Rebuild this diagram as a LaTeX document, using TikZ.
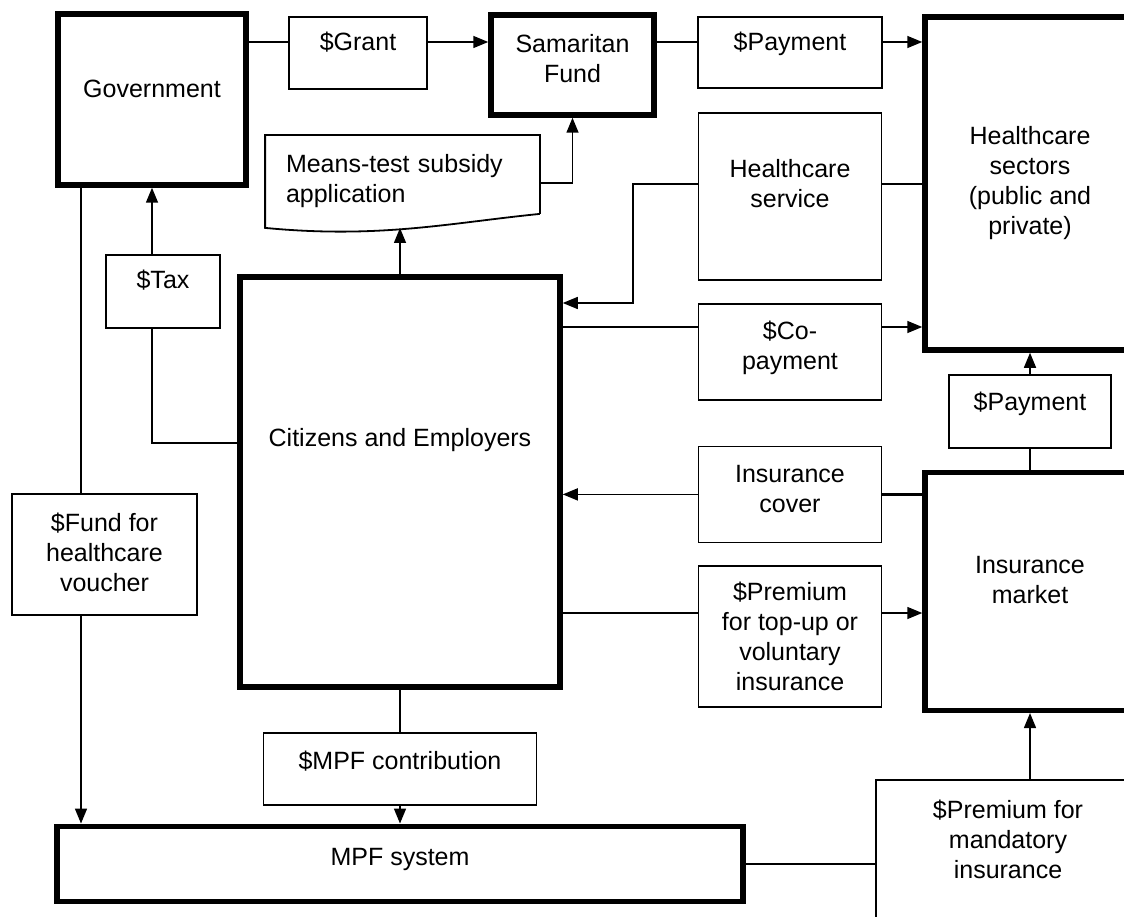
\documentclass[tikz,border=0pt]{standalone}
\usepackage{fontspec}
\setmainfont{Liberation Sans}
\usepackage{tikz}
\usetikzlibrary{arrows.meta,positioning}
\tikzstyle{block} = [rectangle, draw=black, line width=1.8pt, text=black, text centered, align=center, font=\fontsize{25}{30}\selectfont, inner sep=0pt, text height=18pt]
\tikzstyle{heavy} = [block, line width=5.5pt]
\tikzstyle{tline} = [draw, line width=1.5pt]
\tikzstyle{tedge} = [draw, line width=1.5pt, >={Triangle[length=15pt,width=12pt]}, ->]

\begin{document}
\begin{tikzpicture}[x=1pt, y=-1pt]
\useasboundingbox (0,0) rectangle (1124,917);

% rows and columns of the connectors
\coordinate (toprow) at (0,42);
\coordinate (servrow) at (0,184);
\coordinate (bend) at (633,303);
\coordinate (payrow) at (0,327);
\coordinate (taxrow) at (0,443);
\coordinate (premrow) at (0,613);
\coordinate (fundcol) at (81,0);
\coordinate (meansbot) at (400,228);

% top row =============================
\node[heavy, minimum width=188pt, minimum height=171pt, text depth=21pt] (gov) at (152,99.5) {Government};
\node[block, minimum width=138pt, minimum height=72pt, text depth=22pt] (grant) at (358,53) {\$Grant};
\node[heavy, minimum width=163pt, minimum height=100pt, text height=48pt, text depth=12pt] (sam) at (572.5,65) {Samaritan\\Fund};
\node[block, minimum width=184pt, minimum height=71pt, text depth=21pt] (pay1) at (790,52.5) {\$Payment};
\node[heavy, minimum width=210pt, minimum height=333pt, text height=108pt, text depth=5pt] (sect) at (1030,183.5) {Healthcare\\sectors\\(public and\\private)};

% means test form
\node[block, draw=none, minimum width=273pt, minimum height=94pt, text width=233pt, align=left, text depth=38pt] (means) at (402.5,183) {Means-test subsidy\\application};
\draw[line width=1.8pt] ([yshift=17pt]means.south east) -- (means.north east) -- (means.north west) -- ([yshift=3pt]means.south west)
  .. controls +(114,11) and +(-90,9) .. ([yshift=17pt]means.south east);

% middle column
\node[block, minimum width=183pt, minimum height=167pt, text height=48pt, text depth=25pt, below=23pt of pay1] (serv) {Healthcare\\service};
\node[block, minimum width=183pt, minimum height=96pt, text height=48pt, text depth=12pt, below=22pt of serv] (copay) {\$Co-\\payment};
\node[block, minimum width=183pt, minimum height=96pt, text height=48pt, text depth=12pt, below=45pt of copay] (cover) {Insurance\\cover};
\node[block, minimum width=183pt, minimum height=141pt, text height=108pt, text depth=1pt, below=22pt of cover] (prem) {\$Premium\\for top-up or\\voluntary\\insurance};

% right column
\node[block, minimum width=162pt, minimum height=73pt, text depth=19pt, below=21pt of sect] (pay2) {\$Payment};
\node[heavy, minimum width=210pt, minimum height=238pt, text height=48pt, text depth=24pt, below=21pt of pay2] (mkt) {Insurance\\market};
\node[block, minimum width=264pt, minimum height=155pt, text height=78pt, text depth=37pt] (mand) at (1008,857.5) {\$Premium for\\mandatory\\insurance};

% left side
\node[block, minimum width=114pt, minimum height=73pt, text depth=25pt] (tax) at (163,291.5) {\$Tax};
\node[heavy, minimum width=320pt, minimum height=410pt, text depth=90pt] (cit) at (400,482) {Citizens and Employers};
\node[block, minimum width=185pt, minimum height=121pt, text height=78pt, text depth=5pt] (fund) at (104.5,554.5) {\$Fund for\\healthcare\\voucher};
\node[block, minimum width=273pt, minimum height=72pt, text depth=16pt, below=42pt of cit] (mpfc) {\$MPF contribution};
\node[heavy, minimum width=686pt, minimum height=75pt, text depth=15pt, below=18pt of mpfc] (mpf) {MPF system};

% edges
\path[tline] (gov.east |- toprow) -- (grant.west |- toprow);
\path[tedge] (grant.east |- toprow) -- (sam.west |- toprow);
\path[tline] (sam.east |- toprow) -- (pay1.west |- toprow);
\path[tedge] (pay1.east |- toprow) -- (sect.west |- toprow);
\path[tedge] (means.east) -| (sam.south);
\path[tedge] (cit.north) -- (meansbot);
\path[tedge] (tax.north -| gov.south) -- (gov.south);
\path[tline] (cit.west |- taxrow) -| (tax.south -| gov.south);
\path[tline] (serv.east |- servrow) -- (sect.west |- servrow);
\path[tedge] (serv.west |- servrow) -| (bend) -- (cit.east |- bend);
\path[tline] (cit.east |- payrow) -- (copay.west |- payrow);
\path[tedge] (copay.east |- payrow) -- (sect.west |- payrow);
\path[tedge] (cover.west) -- (cit.east |- cover.west);
\path[draw, line width=3.5pt] (mkt.west |- cover.east) -- (cover.east);
\path[tline] (cit.east |- premrow) -- (prem.west |- premrow);
\path[tedge] (prem.east |- premrow) -- (mkt.west |- premrow);
\path[tedge] (pay2.north) -- (sect.south);
\path[tline] (mkt.north) -- (pay2.south);
\path[tline] (gov.south -| fundcol) -- (fund.north -| fundcol);
\path[tedge] (fund.south -| fundcol) -- (mpf.north -| fundcol);
\path[tline] (cit.south) -- (mpfc.north);
\path[tedge] (mpfc.south) -- (mpf.north);
\path[tline] (mpf.east) -- (mpf.east -| mand.west);
\path[tedge] (mkt.south |- mand.north) -- (mkt.south);

\end{tikzpicture}
\end{document}
